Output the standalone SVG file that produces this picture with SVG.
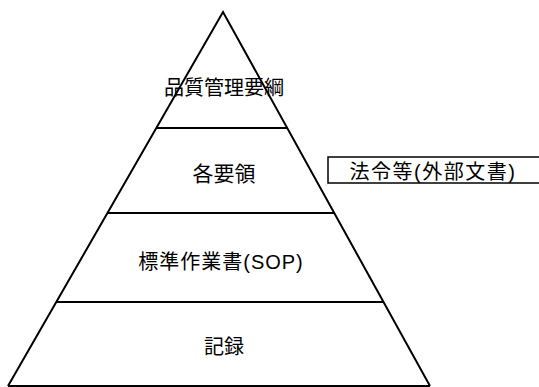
<svg xmlns="http://www.w3.org/2000/svg" width="539" height="387" viewBox="0 0 539 387">
<style>
.ln{stroke:#000;stroke-width:2;fill:none}
.t{font-family:"Liberation Sans","Noto Sans CJK JP",sans-serif;font-size:20px;fill:#000;text-anchor:middle;dominant-baseline:central}
</style>
<rect width="539" height="387" fill="#fff"/>
<g id="connectors">
<polyline class="ln" points="8,386 223,12 430,386"/>
<line class="ln" x1="8" y1="386" x2="430" y2="386"/>
<line class="ln" x1="156" y1="128" x2="288" y2="128"/>
<line class="ln" x1="107" y1="213" x2="334" y2="213"/>
<line class="ln" x1="57" y1="302" x2="384" y2="302"/>
</g>
<g id="n1"><text class="t" x="224" y="88">品質管理要綱</text></g>
<g id="n2"><text class="t" x="224" y="173" style="font-size:21px">各要領</text></g>
<g id="n3"><text class="t" x="221" y="262" letter-spacing="1">標準作業書(SOP)</text></g>
<g id="n4"><text class="t" x="224" y="347">記録</text></g>
<g id="n5"><rect class="ln" x="328" y="157" width="220" height="26" style="stroke-width:1.5"/><text class="t" x="433" y="172" letter-spacing="1.5">法令等(外部文書)</text></g>
</svg>
